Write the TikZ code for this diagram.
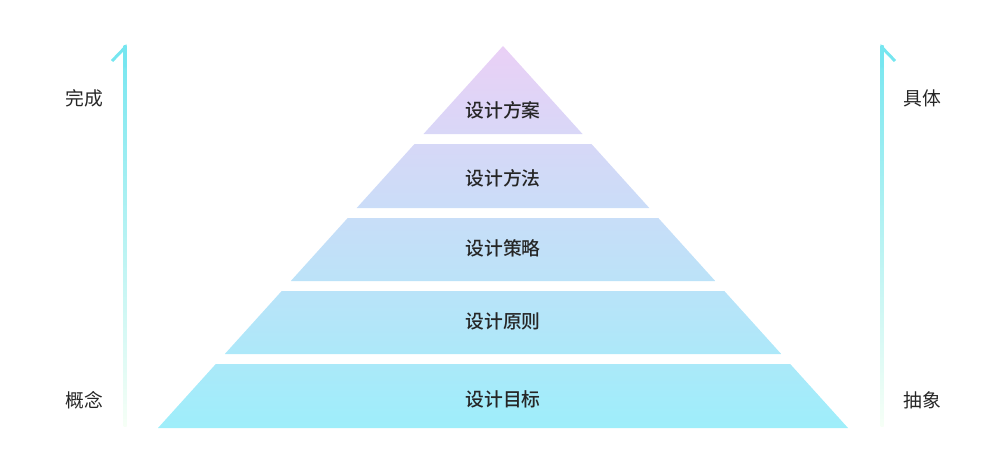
\documentclass[tikz,border=0pt]{standalone}
\usepackage{fontspec}
\usepackage{xcolor}
\usepackage{tikz}
\usetikzlibrary{calc}
\newfontfamily\cjk[BoldFont={Noto Sans CJK SC Medium}]{Noto Sans CJK SC}

\definecolor{pyrtop}{RGB}{234,208,246}
\definecolor{pyrbot}{RGB}{158,238,250}
\definecolor{axtop}{RGB}{118,230,240}
\definecolor{axmid}{RGB}{150,242,206}
\definecolor{axbot}{RGB}{246,255,246}

\begin{document}
\begin{tikzpicture}[
  x=0.02cm, y=-0.02cm,
  tiertext/.style={font=\cjk\bfseries\fontsize{10.7}{12}\selectfont, text=black!85, inner sep=0pt},
  sidetext/.style={font=\cjk\fontsize{10.7}{12}\selectfont, text=black!85, inner sep=0pt},
  barb/.style={draw=axtop, line width=1.7pt, line join=miter},
]
\useasboundingbox (0,0) rectangle (1000,456);

% ================= pyramid: five tiers, colour runs top to bottom =================
% \yt/\yb: top and bottom edge, \wt/\wb: half widths, \pt/\pb: share of pyrbot
\foreach \yt/\yb/\wt/\wb/\pt/\pb in {46/134/0/79.5/0/23,
                                     144/208/88.5/146.3/25.7/42.4,
                                     218/281/155.3/212.2/45/61.5,
                                     291/354/221.3/278.2/64.1/80.6,
                                     364/428/287.2/345/83.2/100}
  \shade[top color=pyrbot!\pt!pyrtop, bottom color=pyrbot!\pb!pyrtop]
    (503-\wt,\yt) -- (503+\wt,\yt) -- (503+\wb,\yb) -- (503-\wb,\yb) -- cycle;

\node[tiertext] (plan)     at (503,110) {设计方案};
\node[tiertext] (method)   at (503,178) {设计方法};
\node[tiertext] (strategy) at (503,248) {设计策略};
\node[tiertext] (rule)     at (503,321) {设计原则};
\node[tiertext] (goal)     at (503,399) {设计目标};

% ================= left axis: 概念 -> 完成 =================
\coordinate (lTop) at (125,46);
\coordinate (lBot) at (125,426);
\shade[top color=axtop, middle color=axmid, bottom color=axbot]
  ($(lTop)+(-1.5,0)$) rectangle ($(lBot)+(1.5,0)$);
\draw[barb] (112,61) -- ($(lTop)+(0,1.5)$) -- ++(0,20);

\node[sidetext] (done)    at (84,98)  {完成};
\node[sidetext] (concept) at (84,400) {概念};

% ================= right axis: 抽象 -> 具体 =================
\coordinate (rTop) at (882,46);
\coordinate (rBot) at (882,426);
\shade[top color=axtop, middle color=axmid, bottom color=axbot]
  ($(rTop)+(-1.5,0)$) rectangle ($(rBot)+(1.5,0)$);
\draw[barb] (895,61) -- ($(rTop)+(0,1.5)$) -- ++(0,20);

\node[sidetext] (concrete) at (922,98)  {具体};
\node[sidetext] (abstract) at (922,400) {抽象};

\end{tikzpicture}
\end{document}
